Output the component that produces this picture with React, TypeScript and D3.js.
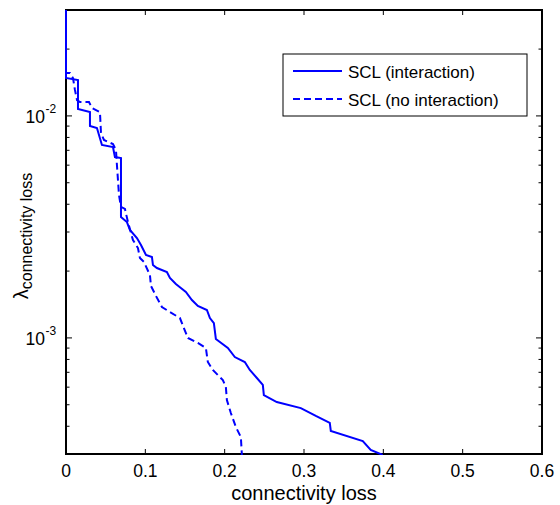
import * as d3 from "d3";

// connectivity loss (x) vs lambda (y)
const solidX = [0, 0, 0.0151, 0.0151, 0.0302, 0.0302, 0.039, 0.0453, 0.0592, 0.0617, 0.0693, 0.0693, 0.0768, 0.0806, 0.0894, 0.0945, 0.1008, 0.1083, 0.1096, 0.1146, 0.1272, 0.131, 0.1385, 0.1448, 0.1511, 0.1587, 0.1662, 0.1776, 0.1814, 0.1864, 0.1889, 0.204, 0.2128, 0.2254, 0.2317, 0.2406, 0.2481, 0.2494, 0.2657, 0.296, 0.3149, 0.3325, 0.3338, 0.3741, 0.3841, 0.3992];
const solidY = [0.04, 0.01482, 0.01451, 0.01075, 0.01041, 0.00901, 0.00882, 0.0074, 0.00724, 0.00653, 0.00646, 0.003505, 0.003327, 0.003062, 0.002818, 0.002622, 0.002363, 0.002315, 0.002131, 0.002065, 0.001981, 0.001862, 0.001749, 0.001678, 0.00161, 0.001482, 0.001392, 0.001336, 0.001229, 0.001167, 0.000989, 0.000901, 0.00082, 0.000779, 0.000717, 0.00066, 0.000614, 0.000553, 0.000514, 0.000483, 0.000445, 0.000414, 0.000381, 0.000343, 0.000313, 0.000297];

const dashX = [0, 0, 0.005, 0.0088, 0.0113, 0.0139, 0.0176, 0.029, 0.0327, 0.0428, 0.0441, 0.0479, 0.0592, 0.063, 0.0642, 0.0668, 0.0693, 0.0743, 0.0781, 0.0844, 0.0907, 0.0932, 0.0982, 0.1058, 0.1071, 0.1134, 0.1209, 0.131, 0.1436, 0.1486, 0.1537, 0.1662, 0.1763, 0.1788, 0.1851, 0.1977, 0.2015, 0.2028, 0.2078, 0.2141, 0.2204, 0.2217];
const dashY = [0.04, 0.01561, 0.01561, 0.01482, 0.01308, 0.01179, 0.01155, 0.01155, 0.01086, 0.01041, 0.00837, 0.00779, 0.00747, 0.00702, 0.00601, 0.0044, 0.00389, 0.00381, 0.003327, 0.00276, 0.00254, 0.00229, 0.0022, 0.00192, 0.001714, 0.001545, 0.001378, 0.001308, 0.001229, 0.001108, 0.000999, 0.000949, 0.000901, 0.000779, 0.000717, 0.000646, 0.000601, 0.000525, 0.000459, 0.000397, 0.000358, 0.000297];

const xTicks = [0, 0.1, 0.2, 0.3, 0.4, 0.5, 0.6];
const yMajor = [1e-3, 1e-2];
const yMajorLabels = ["-3", "-2"];
const seriesNames = ["SCL (interaction)", "SCL (no interaction)"];

const W = 560;
const H = 505;
const left = 66, right = 542, top = 10, bottom = 454;
const blue = "#0000ff";
const font = "Arial, 'Liberation Sans', Helvetica, sans-serif";

export default function App() {
  const x = d3.scaleLinear().domain([0, 0.6]).range([left, right]);
  const y = d3.scaleLog().domain([3e-4, 3e-2]).range([bottom, top]);

  const line = d3
    .line<[number, number]>()
    .x((d) => x(d[0]))
    .y((d) => y(d[1]));

  const solid = line(solidX.map((v, i) => [v, solidY[i]] as [number, number])) || "";
  const dashed = line(dashX.map((v, i) => [v, dashY[i]] as [number, number])) || "";

  const yMinor = y.ticks().filter((t) => !yMajor.some((m) => Math.abs(m - t) / m < 1e-6));

  return (
    <svg
      width={W}
      height={H}
      style={{ position: "absolute", left: 0, top: 0, background: "#fff" }}
      fontFamily={font}
    >
      <defs>
        <clipPath id="plot">
          <rect x={left - 2} y={top} width={right - left + 2} height={bottom - top + 1} />
        </clipPath>
      </defs>
      <rect x={0} y={0} width={W} height={H} fill="#fff" />

      {/* x ticks, bottom and top, inward */}
      {xTicks.slice(1, -1).map((t) => (
        <g key={"xt" + t} stroke="#000" strokeWidth={1}>
          <line x1={x(t)} x2={x(t)} y1={bottom} y2={bottom - 5} />
          <line x1={x(t)} x2={x(t)} y1={top} y2={top + 5} />
        </g>
      ))}
      {xTicks.map((t) => (
        <text key={"xl" + t} x={x(t)} y={477} fontSize={17.5} textAnchor="middle" fill="#000">
          {String(t)}
        </text>
      ))}

      {/* y ticks */}
      {yMajor.map((t) => (
        <g key={"ym" + t} stroke="#000" strokeWidth={1}>
          <line x1={left} x2={left + 6} y1={y(t)} y2={y(t)} />
          <line x1={right} x2={right - 6} y1={y(t)} y2={y(t)} />
        </g>
      ))}
      {yMinor.map((t) => (
        <g key={"yn" + t} stroke="#000" strokeWidth={1}>
          <line x1={left} x2={left + 3.5} y1={y(t)} y2={y(t)} />
          <line x1={right} x2={right - 3.5} y1={y(t)} y2={y(t)} />
        </g>
      ))}
      {yMajor.map((t, i) => (
        <g key={"yl" + t}>
          <text x={45} y={y(t) + 7} fontSize={17.5} textAnchor="end" fill="#000">
            10
          </text>
          <text x={45.5} y={y(t) - 3} fontSize={12} textAnchor="start" fill="#000">
            {yMajorLabels[i]}
          </text>
        </g>
      ))}

      {/* axis box */}
      <rect x={left} y={top} width={right - left} height={bottom - top} fill="none" stroke="#000" strokeWidth={2} />

      {/* curves */}
      <g clipPath="url(#plot)" fill="none" stroke={blue} strokeWidth={2}>
        <path d={dashed} strokeDasharray="7,4" />
        <path d={solid} />
      </g>

      {/* legend */}
      <rect x={283} y={54} width={244} height={62} fill="#fff" stroke="#000" strokeWidth={1} />
      <line x1={293} x2={342} y1={71} y2={71} stroke={blue} strokeWidth={2} />
      <line x1={293} x2={342} y1={99} y2={99} stroke={blue} strokeWidth={2} strokeDasharray="7,4" />
      <text x={348} y={78} fontSize={17} fill="#000">
        {seriesNames[0]}
      </text>
      <text x={348} y={106} fontSize={17} fill="#000">
        {seriesNames[1]}
      </text>

      {/* axis labels */}
      <text x={(left + right) / 2} y={500} fontSize={20} textAnchor="middle" fill="#000">
        connectivity loss
      </text>
      <text transform={`translate(28, 236) rotate(-90)`} textAnchor="middle" fill="#000">
        <tspan fontSize={20}>λ</tspan>
        <tspan fontSize={16} dy={4}>
          connectivity loss
        </tspan>
      </text>
    </svg>
  );
}
